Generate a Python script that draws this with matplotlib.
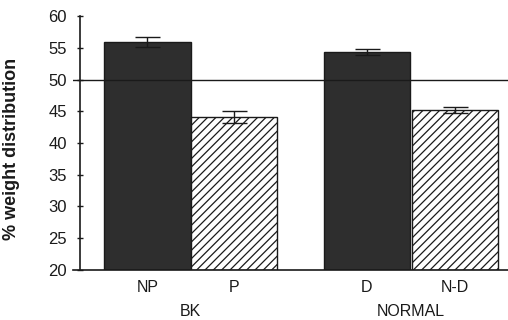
import numpy as np
import matplotlib
matplotlib.use('Agg')
import matplotlib.pyplot as plt
import matplotlib.transforms as mtransforms

plt.rcParams['font.family'] = ['Liberation Sans', 'DejaVu Sans']
plt.rcParams['hatch.linewidth'] = 0.9

# ── Data ─────────────────────────────────────────────────────────────────────
bar_labels = ['NP', 'P', 'D', 'N-D']
groups = ['BK', 'NORMAL']
values = [55.9, 44.1, 54.3, 45.2]
errors = [0.8, 1.0, 0.5, 0.5]
positions = [0.0, 0.99, 2.52, 3.53]
reference_level = 50
y_ticks = [20, 25, 30, 35, 40, 45, 50, 55, 60]

dark = '#2e2e2e'
ink = '#1a1a1a'

# ── Plot ─────────────────────────────────────────────────────────────────────
fig = plt.figure(figsize=(5.08, 3.20), dpi=100)
ax = fig.add_axes([73 / 508, 50 / 320, 435 / 508, 254 / 320])

styles = [dict(color=dark, hatch=None), dict(color='white', hatch='////'),
          dict(color=dark, hatch=None), dict(color='white', hatch='////')]

for x, v, e, st in zip(positions, values, errors, styles):
    ax.bar(x, v - 20, bottom=20, width=0.99, color=st['color'],
           hatch=st['hatch'], edgecolor=ink, linewidth=1.0, zorder=2)
    ax.errorbar(x, v, yerr=e, color=ink, capsize=9, elinewidth=1.0,
                capthick=1.0, zorder=3)

ax.axhline(reference_level, color=ink, linewidth=1.0, zorder=4)

ax.set_xlim(-0.856, 4.144)
ax.set_ylim(20, 60)
ax.set_yticks(y_ticks)
ax.set_xticks([])

for side in ['top', 'right']:
    ax.spines[side].set_visible(False)
ax.spines['left'].set_position(('outward', -5.0))
ax.spines['left'].set_color(ink)
ax.spines['bottom'].set_color(ink)
ax.spines['left'].set_linewidth(1.2)
ax.spines['bottom'].set_linewidth(1.2)
ax.tick_params(axis='y', direction='inout', length=5, width=1.0,
               colors=ink, pad=7, labelsize=12)

ax.set_ylabel('% weight distribution', fontsize=13, fontweight='bold',
              color=ink)
ax.yaxis.set_label_coords(-0.122, 0.476)

# bar labels and group labels under the axis
trans = mtransforms.blended_transform_factory(ax.transData, ax.transAxes)
for x, lab in zip(positions, bar_labels):
    ax.text(x, -18 / 254, lab, transform=trans, ha='center', va='center',
            fontsize=11.5, color=ink)
for i, g in enumerate(groups):
    gx = (positions[2 * i] + positions[2 * i + 1]) / 2
    ax.text(gx, -41 / 254, g, transform=trans, ha='center', va='center',
            fontsize=11.5, color=ink)

fig.savefig('out.png', dpi=100)
